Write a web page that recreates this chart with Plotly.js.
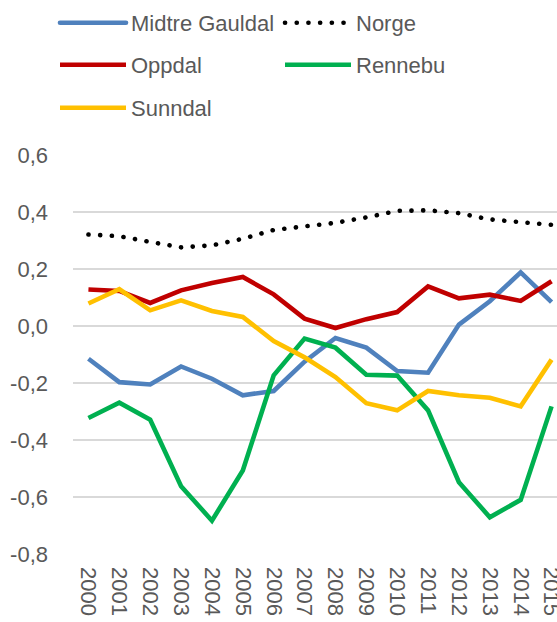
<!DOCTYPE html>
<html>
<head>
<meta charset="utf-8">
<script src="https://cdn.plot.ly/plotly-3.0.1.min.js"></script>
<style>
html,body{margin:0;padding:0;overflow:hidden;background:#fff;}
#chart{width:567px;height:622px;}
</style>
</head>
<body>
<div id="chart"></div>
<script>
const years = ['2000','2001','2002','2003','2004','2005','2006','2007','2008','2009','2010','2011','2012','2013','2014','2015'];
const midtreGauldal = [-0.115,-0.197,-0.205,-0.142,-0.185,-0.243,-0.228,-0.125,-0.042,-0.076,-0.158,-0.164,0.005,0.087,0.188,0.084];
const norge = [0.321,0.315,0.295,0.276,0.283,0.306,0.337,0.349,0.362,0.381,0.404,0.406,0.396,0.374,0.364,0.355];
const oppdal = [0.128,0.123,0.081,0.125,0.151,0.172,0.111,0.026,-0.007,0.024,0.049,0.139,0.097,0.110,0.088,0.157];
const rennebu = [-0.323,-0.269,-0.329,-0.562,-0.683,-0.507,-0.173,-0.044,-0.076,-0.171,-0.174,-0.296,-0.548,-0.671,-0.610,-0.282];
const sunndal = [0.079,0.129,0.055,0.090,0.053,0.032,-0.053,-0.110,-0.179,-0.271,-0.296,-0.228,-0.243,-0.252,-0.282,-0.118];
const yTickVals = [-0.8,-0.6,-0.4,-0.2,0,0.2,0.4,0.6];
const yTickText = ['-0,8','-0,6','-0,4','-0,2','0,0','0,2','0,4','0,6'];

const W = 4.6;
const traces = [
  {name:'Midtre Gauldal', y: midtreGauldal, color:'#4f81bd', dash:'solid', legend:'legend'},
  {name:'Norge', y: norge, color:'#000000', dash:'0.1px,11.6px', legend:'legend'},
  {name:'Oppdal', y: oppdal, color:'#c00000', dash:'solid', legend:'legend2'},
  {name:'Rennebu', y: rennebu, color:'#00b050', dash:'solid', legend:'legend2'},
  {name:'Sunndal', y: sunndal, color:'#ffc000', dash:'solid', legend:'legend3'}
].map(t => ({
  type:'scatter', mode:'lines', x: years, y: t.y, name: t.name,
  legend: t.legend,
  line:{color:t.color, width:W, dash:t.dash, shape:'linear'},
  hoverinfo:'skip'
}));
const font = {family:'Liberation Sans, Arial, sans-serif', size:22, color:'#595959'};
const legX = 55 / 567;
const legBase = {orientation:'h', xref:'container', yref:'container', xanchor:'left', yanchor:'middle',
  font: font, entrywidth:144, entrywidthmode:'pixels', itemwidth:66, bgcolor:'rgba(0,0,0,0)',
  traceorder:'normal', itemclick:false, itemdoubleclick:false, x: legX};
const layout = {
  width:567, height:622,
  margin:{l:73, r:0, t:155, b:68, pad:0},
  paper_bgcolor:'#ffffff', plot_bgcolor:'#ffffff',
  font: font,
  showlegend:true,
  legend: Object.assign({}, legBase, {y:1-23/622}),
  legend2: Object.assign({}, legBase, {y:1-65/622}),
  legend3: Object.assign({}, legBase, {y:1-108/622}),
  xaxis:{type:'category', tickangle:90, showgrid:false, zeroline:false, showline:false,
    ticks:'', tickfont:font, ticklabelstandoff:12, range:[-0.5,15.5], fixedrange:true},
  yaxis:{range:[-0.8,0.6], tickvals:yTickVals, ticktext:yTickText, showgrid:true,
    gridcolor:'#d9d9d9', gridwidth:1.5, zeroline:false, showline:false, ticks:'',
    tickfont:font, ticklabelstandoff:24, fixedrange:true}
};
Plotly.newPlot('chart', traces, layout, {staticPlot:true, displayModeBar:false}).then(gd => {
  document.querySelectorAll('path').forEach(p => {
    const d = p.style.strokeDasharray || '';
    if (d.indexOf('11.6') >= 0) p.style.strokeLinecap = 'round';
  });
  document.querySelectorAll('.legend path.js-line').forEach(p => {
    p.style.strokeLinecap = 'round';
  });
});
</script>
</body>
</html>
